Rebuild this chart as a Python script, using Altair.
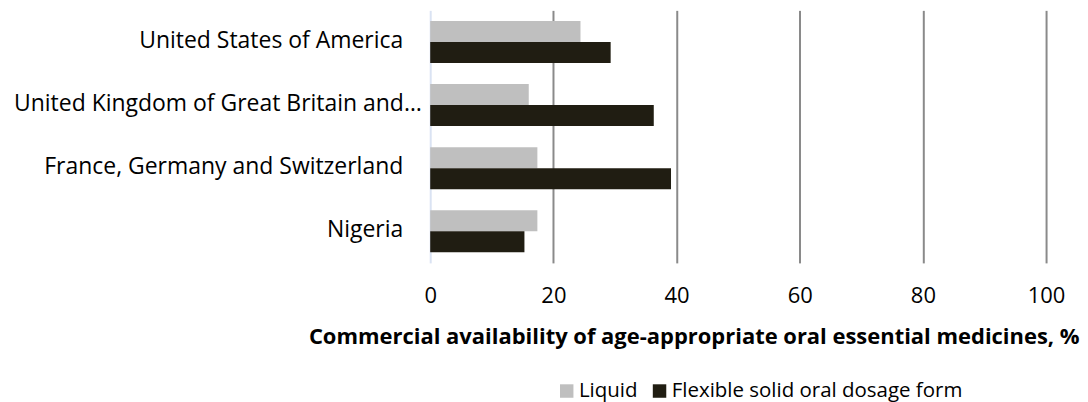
import altair as alt
import pandas as pd

categories = [
    "United States of America",
    "United Kingdom of Great Britain and…",
    "France, Germany and Switzerland",
    "Nigeria",
]
series = ["Liquid", "Flexible solid oral dosage form"]
liquid = [24.4, 16.0, 17.4, 17.4]
flexible = [29.3, 36.3, 39.1, 15.3]
colors = ["#bfbfbf", "#201d12"]
x_ticks = [0, 20, 40, 60, 80, 100]

rows = []
for c, l, f in zip(categories, liquid, flexible):
    rows.append({"country": c, "series": series[0], "value": l})
    rows.append({"country": c, "series": series[1], "value": f})
df = pd.DataFrame(rows)

FONT = "Open Sans"
long_label = categories[1]

chart = (
    alt.Chart(df)
    .mark_bar()
    .encode(
        y=alt.Y(
            "country:N",
            sort=categories,
            scale=alt.Scale(paddingInner=0.336, paddingOuter=0.168),
            axis=alt.Axis(
                title=None,
                ticks=False,
                grid=False,
                domain=False,
                labelPadding=alt.condition(
                    f"datum.value === '{long_label}'", alt.value(9), alt.value(27.5)
                ),
                labelOffset=-1,
                labelFontSize=23,
                labelColor="#000000",
                labelFont=FONT,
                labelLimit=500,
                minExtent=422.5,
                maxExtent=422.5,
            ),
        ),
        yOffset=alt.YOffset("series:N", sort=series, scale=alt.Scale(paddingInner=0)),
        x=alt.X(
            "value:Q",
            scale=alt.Scale(domain=[0, 100], nice=False),
            axis=alt.Axis(
                values=x_ticks,
                title="Commercial availability of age-appropriate oral essential medicines, %",
                titleFont=FONT,
                titleFontSize=22,
                titleFontWeight="bold",
                titleColor="#000000",
                titleX=264,
                titleY=74,
                titleAlign="center",
                titleBaseline="middle",
                titleAnchor="start",
                labelFont=FONT,
                labelFontSize=22,
                labelColor="#000000",
                labelPadding=23,
                labelBaseline="top",
                labelFlush=False,
                domain=False,
                ticks=False,
                grid=True,
                gridColor=alt.condition(
                    "datum.value === 0", alt.value("#dae3f3"), alt.value("#8a8a8a")
                ),
                gridWidth=2,
            ),
        ),
        color=alt.Color(
            "series:N",
            sort=series,
            scale=alt.Scale(domain=series, range=colors),
            legend=alt.Legend(
                title=None,
                orient="none",
                direction="horizontal",
                legendX=126.5,
                legendY=371,
                padding=0,
                symbolType="square",
                symbolSize=182,
                symbolStrokeWidth=0,
                labelFont=FONT,
                labelFontSize=20.5,
                labelColor="#000000",
                labelLimit=600,
                columnPadding=11,
                labelOffset=2,
            ),
        ),
    )
    .properties(
        width=617,
        height=253,
        padding={"left": 0, "top": 2, "right": 0, "bottom": 0},
        background="#ffffff",
    )
    .configure_view(strokeWidth=0, stroke="transparent")
)

chart.save("out.html", embed_options={"renderer": "svg", "actions": False})
